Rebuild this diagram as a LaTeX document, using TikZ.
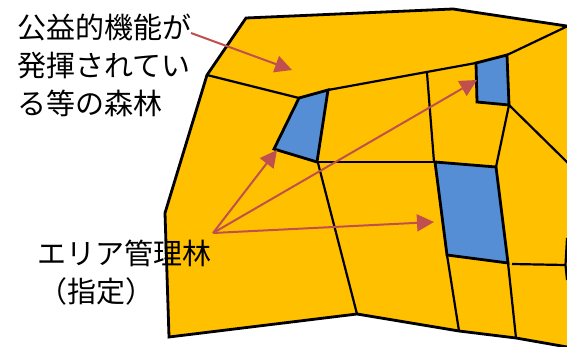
\documentclass[tikz,border=0pt]{standalone}
\usepackage{fontspec}
\newfontfamily\jpfont{Noto Sans CJK JP}[Scale=1]
\usetikzlibrary{arrows.meta}
\definecolor{forest}{HTML}{FFC000}
\definecolor{areablue}{HTML}{558ED5}
\definecolor{pointer}{HTML}{C0504D}
\tikzset{
  outer/.style={fill=forest,draw=black,line width=2.8pt,line join=miter},
  border/.style={draw=black,line width=2.2pt},
  managed/.style={fill=areablue,draw=black,line width=2.8pt,line join=miter},
  pointerline/.style={draw=pointer,line width=2pt,-{Triangle[length=17pt,width=17pt]}},
  caption/.style={inner sep=0pt,align=left,anchor=west,font=\jpfont\fontsize{29}{38}\selectfont,text=black}
}
\begin{document}
\begin{tikzpicture}[x=1pt,y=-1pt]
\useasboundingbox (0,0) rectangle (567,347);
\fill[white] (0,0) rectangle (567,347);
\draw[outer] (246,18) -- (453,9) -- (570,26.5) -- (570,347.5) -- (516,338) -- (459,331) -- (357,314) -- (169,337) -- (165,213) -- (207,75) -- cycle;
\draw[border] (207,75) -- (299,98);
\draw[border] (328,90) -- (476,63);
\draw[border] (507,55) -- (570,25);
\draw[border] (427,73) -- (434,162);
\draw[border] (317,162) -- (435,162);
\draw[border] (318,163) -- (357,314);
\draw[border] (496,167) -- (509,105);
\draw[border] (509,105) -- (570,165);
\draw[border] (447,255) -- (459,331);
\draw[border] (508,263) -- (516,338);
\draw[border] (512,264) -- (565,265);
\draw[border] (567,238) -- (565.5,265) -- (567,280);
\draw[managed] (299,98) -- (328,90) -- (317,162) -- (274,149) -- cycle;
\draw[managed] (476,63) -- (507,55) -- (509,105) -- (477,102) -- cycle;
\draw[managed] (435,162) -- (496,167) -- (508,263) -- (447,255) -- cycle;
\node[caption] (topcap) at (17,65) {公益的機能が\\発揮されてい\\る等の森林};
\node[caption] (areacap) at (37,273) {エリア管理林\\\hspace{1pt}（指定）};
\coordinate (topstart) at (191,33);
\coordinate (toptip) at (292,70);
\coordinate (areastart) at (213,233);
\coordinate (tipa) at (277,150);
\coordinate (tipb) at (477,80);
\coordinate (tipc) at (434,222);
\draw[pointerline] (topstart) -- (toptip);
\draw[pointerline] (areastart) -- (tipa);
\draw[pointerline] (areastart) -- (tipb);
\draw[pointerline] (areastart) -- (tipc);
\end{tikzpicture}
\end{document}
